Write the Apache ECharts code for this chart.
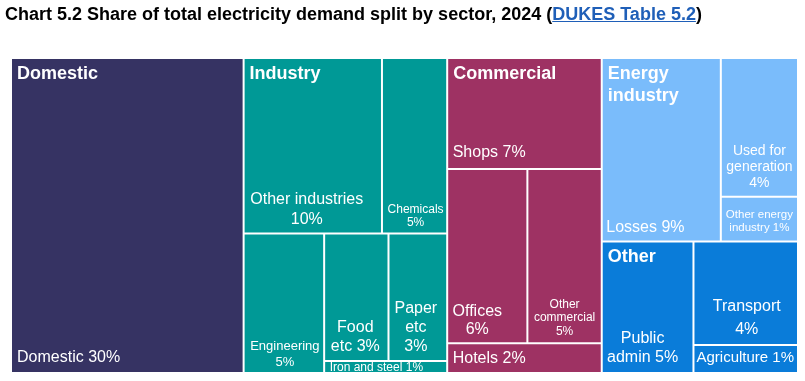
<!DOCTYPE html>
<html><head><meta charset="utf-8">
<script src="https://cdn.jsdelivr.net/npm/echarts@6/dist/echarts.min.js"></script>
<style>
html,body{margin:0;padding:0;background:#fff;width:805px;height:381px;overflow:hidden}
#chart{position:absolute;left:0;top:0;width:805px;height:381px}
#title{position:absolute;left:5px;top:2px;font-family:'Liberation Sans',Arial,sans-serif;font-weight:bold;font-size:18px;line-height:24px;color:#000;white-space:nowrap}
#title a{color:#1f5fb8;text-decoration:underline}
</style></head><body>
<div id="chart"></div>
<div id="title">Chart 5.2 Share of total electricity demand split by sector, 2024 (<a href="#">DUKES Table 5.2</a>)</div>
<script>
// ---- data (share of total electricity demand, %) ----
const sectors = ['Domestic', 'Industry', 'Commercial', 'Energy industry', 'Other'];
const sectorHeadings = ['Domestic', 'Industry', 'Commercial', 'Energy\nindustry', 'Other'];

const domesticNames = ['Domestic'];
const domesticValues = [29.56];
const domesticLabels = ['Domestic {p}'];

const industryNames = ['Other industries', 'Chemicals', 'Engineering', 'Food etc', 'Paper etc', 'Iron and steel'];
const industryValues = [9.80, 4.62, 4.53, 3.31, 3.02, 0.59];
const industryLabels = ['Other industries\n{p}', 'Chemicals\n{p}', 'Engineering\n{p}', 'Food\netc {p}', 'Paper\netc\n{p}', 'Iron and steel {p}'];

const commercialNames = ['Shops', 'Offices', 'Other commercial', 'Hotels'];
const commercialValues = [6.92, 5.64, 5.23, 1.85];
const commercialLabels = ['Shops {p}', 'Offices\n{p}', 'Other\ncommercial\n{p}', 'Hotels {p}'];

const energyNames = ['Losses', 'Used for generation', 'Other energy industry'];
const energyValues = [8.81, 4.32, 1.39];
const energyLabels = ['Losses {p}', 'Used for\ngeneration\n{p}', 'Other energy\nindustry {p}'];

const otherNames = ['Public admin', 'Transport', 'Agriculture'];
const otherValues = [4.87, 4.37, 1.18];
const otherLabels = ['Public\nadmin {p}', 'Transport\n{p}', 'Agriculture {p}'];

// ---- styles ----
const sectorColors = ['#363363', '#009996', '#9e3263', '#7abcfb', '#0a7cd9'];
const CLEAR = 'rgba(0,0,0,0)';
const FONT = "'Liberation Sans', Arial, sans-serif";
function ls(position, fontSize, lineHeight, padding, offset) {
  return { position, fontSize, lineHeight, padding, offset: offset || [0, 0],
           align: position.indexOf('Left') >= 0 ? 'left' : 'center' };
}
const labelStyles = {
  'Domestic': ls('insideBottomLeft', 16, 19, [0, 0, 5, 5]),
  'Other industries': ls('insideBottom', 16, 19.5, [0, 0, 3.5, 0], [-6, 0]),
  'Chemicals': ls('insideBottom', 12, 13, [0, 0, 3, 0], [1, 0]),
  'Engineering': ls('insideBottom', 13, 16, [0, 0, 1.5, 0], [1, 0]),
  'Food etc': ls('insideBottom', 16, 19, [0, 0, 3.6, 0], [-1, 0]),
  'Paper etc': ls('insideBottom', 16, 19, [0, 0, 3.6, 0], [-2, 0]),
  'Iron and steel': ls('insideTopLeft', 12, 9, [0, 0, 0, 4.5], [0, 1.4]),
  'Shops': ls('insideBottomLeft', 16, 19, [0, 0, 6, 4.5]),
  'Offices': ls('insideBottom', 16, 18, [0, 0, 4, 0], [-10, 0]),
  'Other commercial': ls('insideBottom', 12, 13.6, [0, 0, 4, 0]),
  'Hotels': ls('insideBottomLeft', 16, 19, [0, 0, 4, 4.5]),
  'Losses': ls('insideBottomLeft', 16, 19, [0, 0, 3.6, 3.5]),
  'Used for generation': ls('insideBottom', 14, 16, [0, 0, 4.6, 0]),
  'Other energy industry': ls('insideBottom', 11.5, 12.5, [0, 0, 6.5, 0]),
  'Public admin': ls('insideBottom', 16, 19.5, [0, 0, 4.5, 0], [-5, 0]),
  'Transport': ls('insideBottom', 16, 23, [0, 0, 3.3, 0], [1, 0]),
  'Agriculture': ls('insideBottomLeft', 15, 17, [0, 0, 5.5, 2])
};

// ---- build tree ----
const allValues = [].concat(domesticValues, industryValues, commercialValues, energyValues, otherValues);
const total = allValues.reduce((a, b) => a + b, 0);
const pct = v => Math.round(v / total * 100) + '%';
const sum = arr => arr.reduce((a, b) => a + b, 0);

function leaves(names, values, labels, color) {
  return names.map((n, i) => ({
    name: n,
    value: values[i],
    itemStyle: { color: color },
    label: Object.assign({ formatter: labels[i].replace('{p}', pct(values[i])) }, labelStyles[n])
  }));
}
const dom = leaves(domesticNames, domesticValues, domesticLabels, sectorColors[0]);
const ind = leaves(industryNames, industryValues, industryLabels, sectorColors[1]);
const com = leaves(commercialNames, commercialValues, commercialLabels, sectorColors[2]);
const ene = leaves(energyNames, energyValues, energyLabels, sectorColors[3]);
const oth = leaves(otherNames, otherValues, otherLabels, sectorColors[4]);

// hierarchy (with unlabelled grouping nodes that fix the tiling pattern)
const detailTree = [
  { name: 'grp-left', children: [
    dom[0],
    { name: sectors[1], children: [
      { name: 'ind-top', children: [ind[0], ind[1]] },
      { name: 'ind-bottom', children: [ind[2], { name: 'ind-small', children: [ind[3], ind[4], ind[5]] }] }
    ] },
    { name: sectors[2], children: com }
  ] },
  { name: 'grp-right', children: [
    { name: sectors[3], children: ene },
    { name: sectors[4], children: oth }
  ] }
];

const sectorTotals = [sum(domesticValues), sum(industryValues), sum(commercialValues), sum(energyValues), sum(otherValues)];
const clearStyle = { color: CLEAR, borderColor: CLEAR, borderWidth: 0, gapWidth: 2 };
const head = sectors.map((s, i) => ({ name: s, value: sectorTotals[i],
  itemStyle: clearStyle, label: { formatter: sectorHeadings[i] } }));
const headingTree = [
  { name: 'grp-left', itemStyle: clearStyle, children: [head[0], head[1], head[2]] },
  { name: 'grp-right', itemStyle: clearStyle, children: [head[3], head[4]] }
];

const common = {
  type: 'treemap',
  left: 12, top: 59, right: 8, bottom: 9,
  squareRatio: 1.236,
  sort: false,
  roam: false,
  nodeClick: false,
  animation: false,
  breadcrumb: { show: false },
  upperLabel: { show: false },
  emphasis: { disabled: true }
};

const chart = echarts.init(document.getElementById('chart'), null, { renderer: 'canvas' });
chart.setOption({
  animation: false,
  series: [
    Object.assign({}, common, {
      z: 2,
      itemStyle: { borderWidth: 0, gapWidth: 2, borderColor: '#ffffff' },
      label: { show: true, color: '#fff', fontFamily: FONT, overflow: 'none' },
      data: detailTree
    }),
    Object.assign({}, common, {
      z: 3,
      silent: true,
      levels: [{ itemStyle: clearStyle, color: [CLEAR] }, { color: [CLEAR] }, { color: [CLEAR] }],
      itemStyle: clearStyle,
      label: { show: true, position: 'insideTopLeft', color: '#fff', fontFamily: FONT, fontWeight: 'bold',
               fontSize: 18, lineHeight: 22, padding: [4, 0, 0, 5], overflow: 'none' },
      data: headingTree
    })
  ]
});
</script>
</body></html>
